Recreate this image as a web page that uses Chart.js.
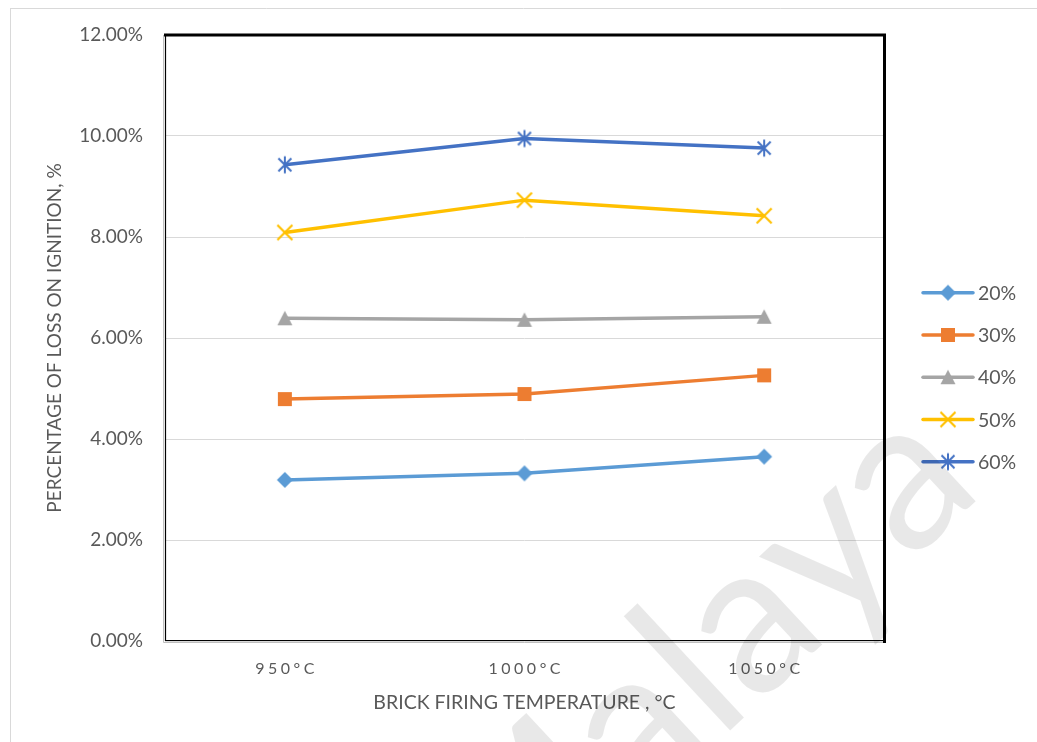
<!DOCTYPE html>
<html>
<head>
<meta charset="utf-8">
<script src="https://cdn.jsdelivr.net/npm/chart.js@4.4.1/dist/chart.umd.min.js"></script>
<style>
  html, body { margin: 0; padding: 0; background: #ffffff; }
  canvas { display: block; }
</style>
</head>
<body>
<canvas id="chart" width="1037" height="742"></canvas>
<script>
// Firing temperatures (categories)
const temperatures = ['950°C', '1000°C', '1050°C'];
// Series names (legend)
const seriesNames = ['20%', '30%', '40%', '50%', '60%'];
// Loss on ignition, % for each series
const loss20 = [3.19, 3.32, 3.65];
const loss30 = [4.79, 4.89, 5.26];
const loss40 = [6.39, 6.36, 6.42];
const loss50 = [8.09, 8.73, 8.42];
const loss60 = [9.43, 9.95, 9.76];
// Y axis tick values, %
const yTicks = [0, 2, 4, 6, 8, 10, 12];

const colors = ['#5B9BD5', '#ED7D31', '#A5A5A5', '#FFC000', '#4472C4'];
const markerKinds = ['diamond', 'square', 'triangle', 'x', 'star'];
const FONT = 'Lato, "Open Sans", sans-serif';
const TEXT = '#595959';

// Build a small marker image so lines and legend share identical markers
function makeMarker(kind, color) {
  const c = document.createElement('canvas');
  c.width = 20; c.height = 20;
  const g = c.getContext('2d');
  g.fillStyle = color; g.strokeStyle = color;
  g.beginPath();
  if (kind === 'diamond') {
    g.moveTo(10, 2); g.lineTo(18, 10); g.lineTo(10, 18); g.lineTo(2, 10); g.closePath(); g.fill();
  } else if (kind === 'square') {
    g.rect(3, 3, 14, 14); g.fill();
  } else if (kind === 'triangle') {
    g.moveTo(10, 2.5); g.lineTo(17.5, 17); g.lineTo(2.5, 17); g.closePath(); g.fill();
  } else if (kind === 'x') {
    g.lineWidth = 2.2;
    g.moveTo(2.5, 2.5); g.lineTo(17.5, 17.5); g.moveTo(17.5, 2.5); g.lineTo(2.5, 17.5); g.stroke();
  } else if (kind === 'star') {
    g.lineWidth = 2;
    g.moveTo(10, 1.5); g.lineTo(10, 18.5);
    g.moveTo(3.5, 3.5); g.lineTo(16.5, 16.5);
    g.moveTo(16.5, 3.5); g.lineTo(3.5, 16.5);
    g.stroke();
  }
  return c;
}
const markers = markerKinds.map((k, i) => makeMarker(k, colors[i]));

const seriesValues = [loss20, loss30, loss40, loss50, loss60];
const datasets = seriesNames.map((name, i) => ({
  label: name,
  data: seriesValues[i],
  borderColor: colors[i],
  backgroundColor: colors[i],
  borderWidth: 3.5,
  pointStyle: markers[i],
  pointRadius: 8,
  pointHoverRadius: 8,
  tension: 0
}));

// Frame, plot border, spaced category labels, legend and watermark
const decorations = {
  id: 'decorations',
  beforeDraw(chart) {
    const ctx = chart.ctx;
    ctx.save();
    ctx.strokeStyle = '#D9D9D9';
    ctx.lineWidth = 1;
    ctx.beginPath();
    ctx.moveTo(10.5, 8); ctx.lineTo(10.5, 742);
    ctx.moveTo(10, 8.5); ctx.lineTo(1037, 8.5);
    ctx.stroke();
    ctx.restore();
  },
  afterDraw(chart) {
    const ctx = chart.ctx;
    const a = chart.chartArea;
    ctx.save();
    // plot area border
    ctx.strokeStyle = '#BFBFBF';
    ctx.lineWidth = 1;
    ctx.beginPath();
    ctx.moveTo(a.left - 1.5, a.top); ctx.lineTo(a.left - 1.5, a.bottom + 1.5);
    ctx.lineTo(a.right + 1, a.bottom + 1.5);
    ctx.stroke();
    ctx.strokeStyle = '#000000';
    ctx.lineWidth = 1.2;
    ctx.beginPath();
    ctx.moveTo(a.left + 0.5, a.top); ctx.lineTo(a.left + 0.5, a.bottom - 0.5);
    ctx.lineTo(a.right, a.bottom - 0.5);
    ctx.stroke();
    ctx.lineWidth = 3;
    ctx.beginPath();
    ctx.moveTo(a.left - 1, a.top); ctx.lineTo(a.right + 1.5, a.top);
    ctx.moveTo(a.right + 0.5, a.top - 1.5); ctx.lineTo(a.right + 0.5, a.bottom + 2);
    ctx.stroke();

    // category labels with letter spacing
    const xs = chart.scales.x;
    ctx.fillStyle = TEXT;
    ctx.font = '16px ' + FONT;
    ctx.textAlign = 'center';
    ctx.textBaseline = 'middle';
    if ('letterSpacing' in ctx) ctx.letterSpacing = '3.5px';
    temperatures.forEach((t, i) => {
      ctx.fillText(t, xs.getPixelForValue(i) + 1.75, 668.5);
    });
    if ('letterSpacing' in ctx) ctx.letterSpacing = '0px';

    // legend: line + marker + name
    ctx.textAlign = 'left';
    ctx.font = '19.5px ' + FONT;
    seriesNames.forEach((name, i) => {
      const y = 292.7 + i * 42.25;
      ctx.strokeStyle = colors[i];
      ctx.lineWidth = 3.5;
      ctx.lineCap = 'round';
      ctx.beginPath();
      ctx.moveTo(923, y); ctx.lineTo(973, y);
      ctx.stroke();
      ctx.drawImage(markers[i], 948 - 10, y - 10);
      ctx.fillStyle = TEXT;
      ctx.fillText(name, 978, y + 1);
    });

    // watermark
    ctx.translate(500, 945);
    ctx.rotate(-43 * Math.PI / 180);
    ctx.font = '212px ' + FONT;
    ctx.fillStyle = 'rgba(0,0,0,0.09)';
    ctx.textAlign = 'left';
    ctx.textBaseline = 'alphabetic';
    ctx.fillText('Malaya', 0, 0);
    ctx.restore();
  }
};

new Chart(document.getElementById('chart'), {
  type: 'line',
  data: { labels: temperatures, datasets },
  options: {
    responsive: false,
    devicePixelRatio: 1,
    animation: false,
    events: [],
    layout: { padding: { left: 0, top: 35, right: 153, bottom: 0 } },
    plugins: { legend: { display: false }, tooltip: { enabled: false } },
    scales: {
      x: {
        type: 'category',
        offset: true,
        grid: { display: false, drawTicks: false },
        border: { display: false },
        ticks: { display: false },
        title: {
          display: true,
          text: 'BRICK FIRING TEMPERATURE , °C',
          color: TEXT,
          font: { family: FONT, size: 19.5 },
          padding: { top: 0, bottom: 27.5 }
        },
        afterFit(s) { s.height = 101; }
      },
      y: {
        min: 0,
        max: 12,
        afterBuildTicks(s) { s.ticks = yTicks.map(v => ({ value: v })); },
        grid: { color: '#D9D9D9', lineWidth: 1, drawTicks: false },
        border: { display: false },
        ticks: {
          color: TEXT,
          font: { family: FONT, size: 19 },
          padding: 22,
          callback: v => v.toFixed(2) + '%'
        },
        title: {
          display: true,
          text: 'PERCENTAGE OF LOSS ON IGNITION, %',
          color: TEXT,
          font: { family: FONT, size: 19 },
          padding: { top: 43.5, bottom: 0 }
        },
        afterFit(s) { s.width = 165; }
      }
    }
  },
  plugins: [decorations]
});
</script>
</body>
</html>
